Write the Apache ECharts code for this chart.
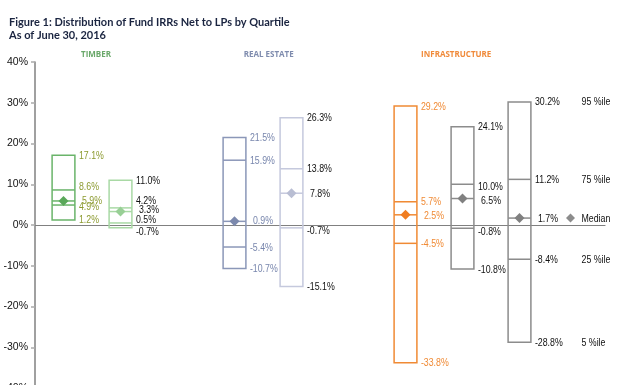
<!DOCTYPE html>
<html><head><meta charset="utf-8">
<script src="https://cdn.jsdelivr.net/npm/echarts@6/dist/echarts.min.js"></script>
<style>html,body{margin:0;padding:0;background:#fff}#c{width:633px;height:385px}</style>
</head><body><div id="c"></div>
<script>
// slots on the category axis (blank slots are gaps)
var slots = ['T1','T2','g1','R1','R2','g2','I1','I2','I3','legend'];
var yTicks = [-40,-30,-20,-10,0,10,20,30,40];
// percentiles: [p95, p75, median, p25, p5]
var timber1 = [17.1, 8.6, 5.9, 4.9, 1.2];
var timber2 = [11.0, 4.2, 3.3, 0.5, -0.7];
var realEstate1 = [21.5, 15.9, 0.9, -5.4, -10.7];
var realEstate2 = [26.3, 13.8, 7.8, -0.7, -15.1];
var infra1 = [29.2, 5.7, 2.5, -4.5, -33.8];
var infra2 = [24.1, 10.0, 6.5, -0.8, -10.8];
var infra3 = [30.2, 11.2, 1.7, -8.4, -28.8];
var legendLabels = ['95 %ile', '75 %ile', 'Median', '25 %ile', '5 %ile'];
var groupTitles = [
  {name:'TIMBER', slot:0.57, color:'#6aa86a'},
  {name:'REAL ESTATE', slot:3.6, color:'#7f8cae'},
  {name:'INFRASTRUCTURE', slot:6.89, color:'#f08a3a'}
];

// styling per box; labelDy = small vertical nudges of value labels (px)
var boxes = [
  {slot:0, vals:timber1, color:'#6ab46a', diamond:'#5aa85a', label:'#8c9a30', labelDy:[0,-3,0,1,-1]},
  {slot:1, vals:timber2, color:'#a9d9a5', diamond:'#98cf95', label:'#111', labelDy:[0,-7,-2,-3,4]},
  {slot:3, vals:realEstate1, color:'#8b97b8', diamond:'#7c89ad', label:'#7886ad', labelDy:[0,0,-1,0,0]},
  {slot:4, vals:realEstate2, color:'#c5c9dd', diamond:'#b9bed3', label:'#111', labelDy:[0,0,0,3,0]},
  {slot:6, vals:infra1, color:'#f08a34', diamond:'#f07d20', label:'#f08a34', labelDy:[0,0,1,0,0]},
  {slot:7, vals:infra2, color:'#8c8c8c', diamond:'#808080', label:'#111', labelDy:[0,2,2,3,0]},
  {slot:8, vals:infra3, color:'#8c8c8c', diamond:'#808080', label:'#111', labelDy:[0,0,0,0,0], legend:true}
];

var FONT = '"Liberation Sans",Arial,sans-serif';

function fmt(v){ return v.toFixed(1) + '%'; }

function narrowText(x, y, str, color){
  return {type:'text', x:x, y:y, scaleX:0.8, scaleY:1,
    style:{text:str, fill:color, font:'11px '+FONT, textAlign:'left', textVerticalAlign:'middle'}};
}

function renderItem(params, api){
  var b = boxes[params.dataIndex];
  var band = api.size([1,0])[0];
  var w = band * 0.4;
  var cx = api.coord([b.slot, 0])[0];
  var x0 = cx - w/2, x1 = cx + w/2;
  var ys = b.vals.map(function(v){ return api.coord([b.slot, v])[1]; });
  var kids = [];
  kids.push({type:'rect', shape:{x:x0, y:ys[0], width:w, height:ys[4]-ys[0]},
    style:{fill:'none', stroke:b.color, lineWidth:1.5}});
  [1,2,3].forEach(function(i){
    kids.push({type:'line', shape:{x1:x0, y1:ys[i], x2:x1, y2:ys[i]},
      style:{stroke:b.color, lineWidth:1.5}});
  });
  var d = 5;
  kids.push({type:'polygon', shape:{points:[[cx-d,ys[2]],[cx,ys[2]-d],[cx+d,ys[2]],[cx,ys[2]+d]]},
    style:{fill:b.diamond}});
  b.vals.forEach(function(v,i){
    var off = (i===2) ? 7 : 4;
    kids.push(narrowText(x1+off, ys[i]+0.5+b.labelDy[i], fmt(v), b.label));
  });
  if (b.legend){
    var lx = api.coord([9, 0])[0];
    b.vals.forEach(function(v,i){
      kids.push(narrowText(lx+5, ys[i]+0.5, legendLabels[i], '#111'));
    });
    var dy = ys[2], dx = lx - 6, dd = 4.5;
    kids.push({type:'polygon', shape:{points:[[dx-dd,dy],[dx,dy-dd],[dx+dd,dy],[dx,dy+dd]]},
      style:{fill:'#8c8c8c'}});
  }
  return {type:'group', children:kids};
}

var chart = echarts.init(document.getElementById('c'), null, {renderer:'canvas'});
chart.setOption({
  animation:false,
  backgroundColor:'#fff',
  title:{
    text:'Figure 1: Distribution of Fund IRRs Net to LPs by Quartile\nAs of June 30, 2016',
    left:4, top:11,
    textStyle:{fontSize:11, fontWeight:'bold', color:'#1a2440', lineHeight:13, fontFamily:'Lato,"Liberation Sans",Arial,sans-serif'}
  },
  grid:{left:35, top:62, width:570, height:326, outerBoundsMode:'none', containLabel:false},
  xAxis:{
    type:'category', data:slots, boundaryGap:true,
    axisLine:{onZero:true, lineStyle:{color:'#808080', width:1.2}},
    axisTick:{show:false}, axisLabel:{show:false}, splitLine:{show:false}
  },
  yAxis:{
    type:'value', min:yTicks[0], max:yTicks[yTicks.length-1], interval:10,
    axisLine:{show:true, lineStyle:{color:'#808080', width:1.5}},
    axisTick:{show:true, inside:false, length:4, lineStyle:{color:'#aaa', width:1.5}},
    axisLabel:{formatter:function(v){return v+'%';}, color:'#111', fontSize:10.5, fontFamily:FONT, margin:7},
    splitLine:{show:false}
  },
  series:[{
    type:'custom', renderItem:renderItem,
    data:boxes.map(function(b){ return [b.slot].concat(b.vals); }),
    encode:{x:0, y:[1,5]}, clip:false, z:5
  }]
});

// group titles positioned by interpolating the axis scale between slots
function slotX(s){
  var a = chart.convertToPixel({gridIndex:0}, [Math.floor(s), 40]);
  var b = chart.convertToPixel({gridIndex:0}, [Math.floor(s)+1, 40]);
  var f = s - Math.floor(s);
  return [a[0] + (b[0]-a[0])*f, a[1]];
}
var gfx = groupTitles.map(function(g){
  var p = slotX(g.slot);
  return {type:'text', x:p[0], y:p[1]-7,
    style:{text:g.name, fill:g.color, font:'bold 8px "Open Sans","Liberation Sans",Arial,sans-serif', textAlign:'center', textVerticalAlign:'middle'}};
});
chart.setOption({graphic:gfx});
</script>
</body></html>
